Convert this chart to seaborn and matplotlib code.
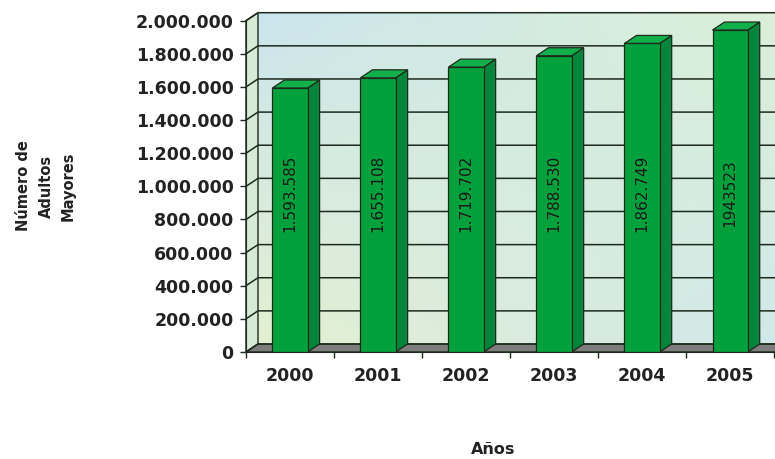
import numpy as np
import matplotlib.pyplot as plt
from matplotlib.patches import Polygon
import seaborn as sns

# ================================
# data
# ================================
years = ["2000", "2001", "2002", "2003", "2004", "2005"]
adultos = [1593585, 1655108, 1719702, 1788530, 1862749, 1943523]
bar_labels = ["1.593.585", "1.655.108", "1.719.702", "1.788.530", "1.862.749", "1943523"]
y_ticks = [0, 200000, 400000, 600000, 800000, 1000000, 1200000, 1400000, 1600000, 1800000, 2000000]
y_tick_labels = ["0", "200.000", "400.000", "600.000", "800.000", "1.000.000",
                 "1.200.000", "1.400.000", "1.600.000", "1.800.000", "2.000.000"]

front = "#00a03c"
side = "#00853a"
top = "#12b04a"
edge = "#1d2a1d"

sns.set_style("white")

fig = plt.figure(figsize=(7.75, 4.59), dpi=100)
ax_box = [0.3174, 0.2331, 0.6826, 0.7218]
ax = fig.add_axes(ax_box)

x0, x1 = -0.5, 5.51
y0, y1 = 0, 2000000

# depth offset of the fake 3d (12 px right, 8 px up) in data units
ax_w = ax_box[2] * 775
ax_h = ax_box[3] * 459
dx = 12 / ax_w * (x1 - x0)
dy = 8 / ax_h * (y1 - y0)

# bars
sns.barplot(x=years, y=adultos, color=front, width=0.4, edgecolor=edge,
            linewidth=0.9, saturation=1, ax=ax, zorder=3)
ax.set_xlim(x0, x1)
ax.set_ylim(y0, y1)

for p in ax.containers[0]:
    xl = p.get_x()
    xr = xl + p.get_width()
    h = p.get_height()
    ax.add_patch(Polygon([(xr, 0), (xr + dx, dy), (xr + dx, h + dy), (xr, h)], closed=True,
                         facecolor=side, edgecolor=edge, lw=0.9, zorder=2.9, clip_on=False))
    ax.add_patch(Polygon([(xl, h), (xr, h), (xr + dx, h + dy), (xl + dx, h + dy)], closed=True,
                         facecolor=top, edgecolor=edge, lw=0.9, zorder=2.9, clip_on=False))

# back wall with a soft gradient
gx, gy = np.meshgrid(np.linspace(0, 1, 60), np.linspace(0, 1, 60))
tl = np.array([0.80, 0.90, 0.93])
tr = np.array([0.86, 0.94, 0.84])
bl = np.array([0.89, 0.94, 0.82])
br = np.array([0.82, 0.91, 0.92])
grad = ((1 - gx)[..., None] * (gy[..., None] * tl + (1 - gy)[..., None] * bl)
        + gx[..., None] * (gy[..., None] * tr + (1 - gy)[..., None] * br))
ax.imshow(grad, extent=(x0 + dx, x1 + dx, y0 + dy, y1 + dy), origin="lower",
          aspect="auto", zorder=0, clip_on=False)
ax.set_xlim(x0, x1)
ax.set_ylim(y0, y1)

# side wall and floor
ax.add_patch(Polygon([(x0, y0), (x0 + dx, y0 + dy), (x0 + dx, y1 + dy), (x0, y1)],
                     closed=True, facecolor="#d6ead6", edgecolor=edge, lw=1, zorder=0.5, clip_on=False))
ax.add_patch(Polygon([(x0, y0), (x1, y0), (x1 + dx, y0 + dy), (x0 + dx, y0 + dy)],
                     closed=True, facecolor="#7d7d7d", edgecolor=edge, lw=1, zorder=0.6, clip_on=False))

# grid lines on the walls
for t in y_ticks:
    ax.plot([x0, x0 + dx, x1 + dx], [t, t + dy, t + dy], color=edge, lw=1.1,
            zorder=0.7, clip_on=False)

for i, lab in enumerate(bar_labels):
    ax.text(i, 960000, lab, rotation=90, ha="center", va="center",
            fontsize=11, color="#1a1a1a", zorder=5)

# axes look
for s in ["top", "right"]:
    ax.spines[s].set_visible(False)
ax.spines["left"].set_color(edge)
ax.spines["bottom"].set_color(edge)
ax.spines["left"].set_zorder(4)

ax.set_yticks(y_ticks)
ax.set_yticklabels(y_tick_labels, fontsize=12.5, fontweight="bold", color="#222222")
ax.tick_params(axis="y", left=True, length=4, width=1, color=edge, pad=5)
ax.set_xticks(range(len(years)))
ax.set_xticklabels(years, fontsize=12.5, fontweight="bold", color="#222222")
ax.set_xticks(np.arange(-0.5, 6, 1), minor=True)
ax.tick_params(axis="x", which="major", length=0, pad=11)
ax.tick_params(axis="x", which="minor", bottom=True, length=4, width=1, color=edge)
ax.set_xlabel("")
ax.set_ylabel("")

fig.text(46 / 775, 1 - 186 / 459, "Número de\nAdultos\nMayores", rotation=90,
         ha="center", va="center", multialignment="center", fontsize=10.5,
         fontweight="bold", color="#222222", linespacing=1.6)
fig.text(493 / 775, 1 - 450 / 459, "Años", ha="center", va="center",
         fontsize=11.5, fontweight="bold", color="#222222")

plt.savefig("out.png", dpi=100)
